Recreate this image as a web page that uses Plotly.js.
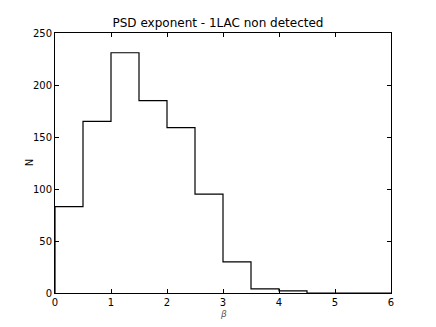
<!DOCTYPE html>
<html>
<head>
<meta charset="utf-8">
<script src="https://cdn.plot.ly/plotly-3.0.1.min.js"></script>
<style>
  html, body { margin: 0; padding: 0; background: #fff; }
  #graph { width: 436px; height: 327px; }
</style>
</head>
<body>
<div id="graph"></div>
<script>
// histogram of beta, bins of 0.5
var binEdges = [0, 0.5, 1, 1.5, 2, 2.5, 3, 3.5, 4, 4.5, 5, 5.5, 6];
var counts = [83, 165, 231, 185, 159, 95, 30, 4, 2, 0, 0, 0];

function drawGraph() {
    var xs = [binEdges[0]], ys = [0];
    for (var i = 0; i < counts.length; i++) {
        xs.push(binEdges[i]);
        ys.push(counts[i]);
    }
    xs.push(binEdges[binEdges.length - 1]);
    ys.push(0);

    var trace = {
        x: xs,
        y: ys,
        type: 'scatter',
        mode: 'lines',
        line: { shape: 'hv', color: '#000', width: 1.2 },
        hoverinfo: 'none'
    };

    var font = { family: 'DejaVu Sans', size: 10, color: '#000' };

    var layout = {
        width: 436,
        height: 327,
        margin: { l: 55, r: 45, t: 33, b: 34 },
        paper_bgcolor: '#fff',
        plot_bgcolor: '#fff',
        showlegend: false,
        font: font,
        title: {
            text: 'PSD exponent - 1LAC non detected',
            font: { family: 'DejaVu Sans', size: 12, color: '#000' },
            x: 0.5, xanchor: 'center',
            y: 0.93, yanchor: 'middle'
        },
        xaxis: {
            range: [0, 6],
            dtick: 1,
            ticks: 'inside',
            ticklen: 4,
            tickcolor: '#000',
            showline: true,
            linecolor: '#000',
            linewidth: 1,
            mirror: 'ticks',
            showgrid: false,
            zeroline: false,
            tickfont: font
        },
        yaxis: {
            range: [0, 250],
            dtick: 50,
            ticks: 'inside',
            ticklen: 4,
            tickcolor: '#000',
            showline: true,
            linecolor: '#000',
            linewidth: 1,
            mirror: 'ticks',
            showgrid: false,
            zeroline: false,
            tickfont: font
        },
        annotations: [
            {
                text: '<i>β</i>', xref: 'paper', yref: 'paper',
                x: 0.5, y: -0.082, xanchor: 'center', yanchor: 'middle',
                showarrow: false, borderpad: 0,
                font: { family: 'DejaVu Sans', size: 9, color: '#555' }
            },
            {
                text: 'N', xref: 'paper', yref: 'paper',
                x: -0.077, y: 0.5, xanchor: 'center', yanchor: 'middle',
                textangle: -90, showarrow: false, font: font
            }
        ]
    };

    Plotly.newPlot('graph', [trace], layout, { staticPlot: true, displayModeBar: false });
}

drawGraph();
</script>
</body>
</html>
